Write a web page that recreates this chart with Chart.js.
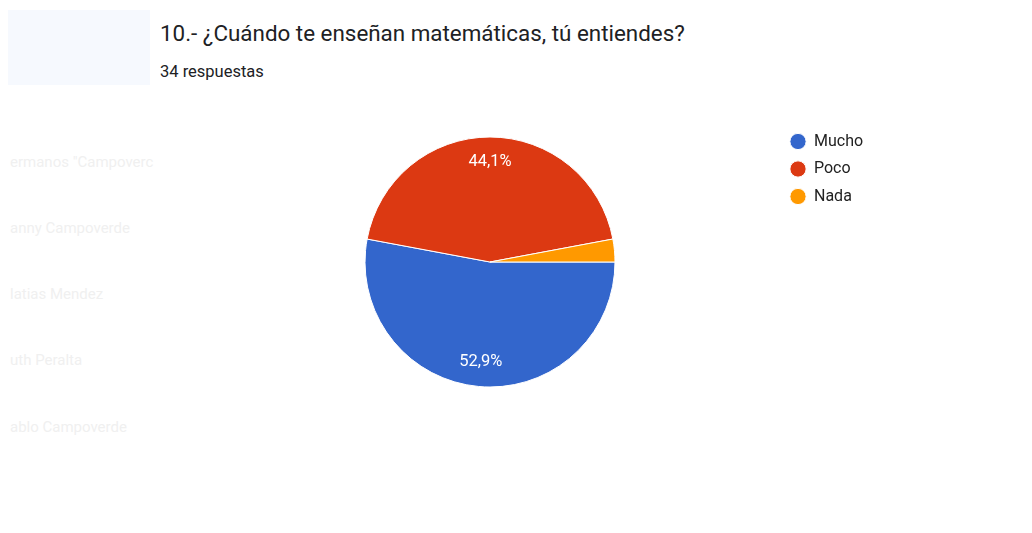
<!DOCTYPE html>
<html><head><meta charset="utf-8">
<script src="https://cdn.jsdelivr.net/npm/chart.js@4.4.1/dist/chart.umd.min.js"></script>
<style>
html,body{margin:0;padding:0;background:#fff;width:1032px;height:533px;overflow:hidden;font-family:Roboto,Arial,sans-serif}
#wrap{position:relative;width:1032px;height:533px}
#c{position:absolute;left:0;top:0}
.t{position:absolute;white-space:nowrap;color:#202124;line-height:1}
#title{left:160px;top:22px;font-size:22.4px}
#sub{left:160px;top:64px;font-size:16.5px}
.ghost{position:absolute;color:#f0f0f0;font-size:15px;white-space:nowrap;line-height:1}
</style></head><body>
<div id="wrap">
<div style="position:absolute;left:8px;top:10px;width:142px;height:75px;background:#f6f9fe"></div>
<div class="ghost" style="left:10px;top:155px">ermanos "Campoverc</div>
<div class="ghost" style="left:10px;top:221px">anny Campoverde</div>
<div class="ghost" style="left:10px;top:287px">latias Mendez</div>
<div class="ghost" style="left:10px;top:353px">uth Peralta</div>
<div class="ghost" style="left:10px;top:420px">ablo Campoverde</div>
<div class="t" id="title"></div>
<div class="t" id="sub"></div>
<canvas id="c" width="1032" height="533"></canvas>
</div>
<script>
const categories = ['Mucho', 'Poco', 'Nada'];
const counts = [18, 15, 1];
const sliceColors = ['#3366cc', '#dc3912', '#ff9900'];
const titleText = '10.- ¿Cuándo te enseñan matemáticas, tú entiendes?';
const subtitleText = '34 respuestas';

document.getElementById('title').textContent = titleText;
document.getElementById('sub').textContent = subtitleText;

const total = counts.reduce((a, b) => a + b, 0);

const sliceLabels = {
  id: 'sliceLabels',
  afterDatasetsDraw(chart) {
    const ctx = chart.ctx;
    const meta = chart.getDatasetMeta(0);
    ctx.save();
    ctx.fillStyle = '#ffffff';
    ctx.font = '16.5px Roboto, Arial, sans-serif';
    ctx.textAlign = 'center';
    ctx.textBaseline = 'middle';
    meta.data.forEach((arc, i) => {
      const pct = counts[i] / total * 100;
      if (pct < 5) return;
      const mid = (arc.startAngle + arc.endAngle) / 2;
      const r = arc.outerRadius * 0.805;
      const x = arc.x + Math.cos(mid) * r;
      const y = arc.y + Math.sin(mid) * r;
      ctx.fillText(pct.toFixed(1).replace('.', ',') + '%', x, y);
    });
    ctx.restore();
  }
};

const chart = new Chart(document.getElementById('c'), {
  type: 'pie',
  data: {
    labels: categories,
    datasets: [{
      data: counts,
      backgroundColor: sliceColors,
      borderColor: '#ffffff',
      borderWidth: 1
    }]
  },
  options: {
    responsive: false,
    animation: false,
    rotation: 90,
    radius: 125,
    layout: { padding: { left: 201.5, top: 122, bottom: 131, right: 160 } },
    plugins: {
      tooltip: { enabled: false },
      legend: {
        position: 'right',
        align: 'start',
        labels: {
          usePointStyle: true,
          pointStyle: 'circle',
          boxWidth: 16,
          boxHeight: 11.5,
          padding: 11.5,
          color: '#222222',
          font: { family: 'Roboto', size: 16 }
        }
      }
    }
  },
  plugins: [sliceLabels]
});
const wantLeft = 778.5;
chart.options.layout.padding.right = 1032 - wantLeft - chart.legend.width;
chart.update('none');
</script>
</body></html>
